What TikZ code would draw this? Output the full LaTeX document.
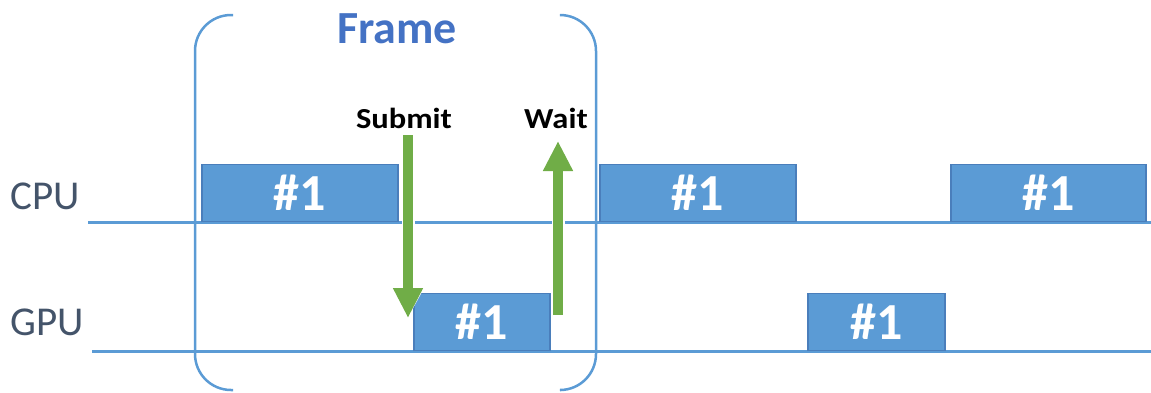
\documentclass[tikz,border=0pt]{standalone}
\usepackage{fontspec}
\setmainfont{Carlito}
\usepackage{tikz}
\usetikzlibrary{arrows.meta,positioning}

\definecolor{lineblue}{HTML}{5B9BD5}
\definecolor{boxedge}{HTML}{4A7EBB}
\definecolor{titleblue}{HTML}{4472C4}
\definecolor{labelgray}{HTML}{44546A}
\definecolor{arrowgreen}{HTML}{70AD47}

\tikzset{
    timeline/.style={lineblue, line width=3pt},
    task/.style={draw=boxedge, fill=lineblue, line width=1.5pt, anchor=south west,
        minimum height=57pt, inner sep=0pt, text=white,
        font=\bfseries\fontsize{52}{52}\selectfont},
    lanelabel/.style={anchor=base west, inner sep=0pt, text=labelgray,
        font=\fontsize{41}{41}\selectfont},
    framebrace/.style={lineblue, line width=2.5pt, rounded corners=36pt},
    flowhalo/.style={white, line width=13pt, -{Triangle[width=33pt,length=33pt]}},
    flow/.style={arrowgreen, line width=10pt, -{Triangle[width=28pt,length=30pt]}},
    cue/.style={anchor=base, inner sep=0pt, font=\bfseries\fontsize{29}{29}\selectfont}
}

\begin{document}
\begin{tikzpicture}[x=1pt,y=-1pt]
        \useasboundingbox (0,0) rectangle (1151,392);

        % draw the two time lines
        \draw[timeline] (88,222) -- (1151,222);
        \draw[timeline] (92,351) -- (1151,351);

        \node[lanelabel] (cpulabel) at (10,209) {CPU};
        \node[lanelabel] (gpulabel) at (10,335) {GPU};

        % the frame bracket
        \draw[framebrace] (233,15) -| (195,390) -- (233,390);
        \draw[framebrace] (561,15) -| (596,390) -- (561,390);
        \node[anchor=base, inner sep=0pt, text=titleblue,
            font=\bfseries\fontsize{46}{46}\selectfont] (frametitle) at (397,43) {Frame};

        % work on the cpu
        \foreach \x/\w [count=\i] in {201/196, 599/196, 950/195}
                \node[task, minimum width=\w] (cpu\i) at (\x,222) {\#1};

        % work on the gpu
        \foreach \x/\w [count=\i] in {413/136, 807/137}
                \node[task, minimum width=\w] (gpu\i) at (\x,351) {\#1};

        % submit and wait
        \node[cue, xscale=1.12] (submit) at (404,128) {Submit};
        \node[cue, xscale=1.12] (wait) at (556,128) {Wait};

        \coordinate (submittop) at (408,135);
        \coordinate (submittip) at (408,318);
        \coordinate (waitfoot) at (558,315);
        \coordinate (waittip) at (558,141);

        \draw[flowhalo] (submittop) -- (submittip);
        \draw[flow] (submittop) -- (submittip);
        \draw[flowhalo] (waitfoot) -- (waittip);
        \draw[flow] (waitfoot) -- (waittip);

\end{tikzpicture}
\end{document}
